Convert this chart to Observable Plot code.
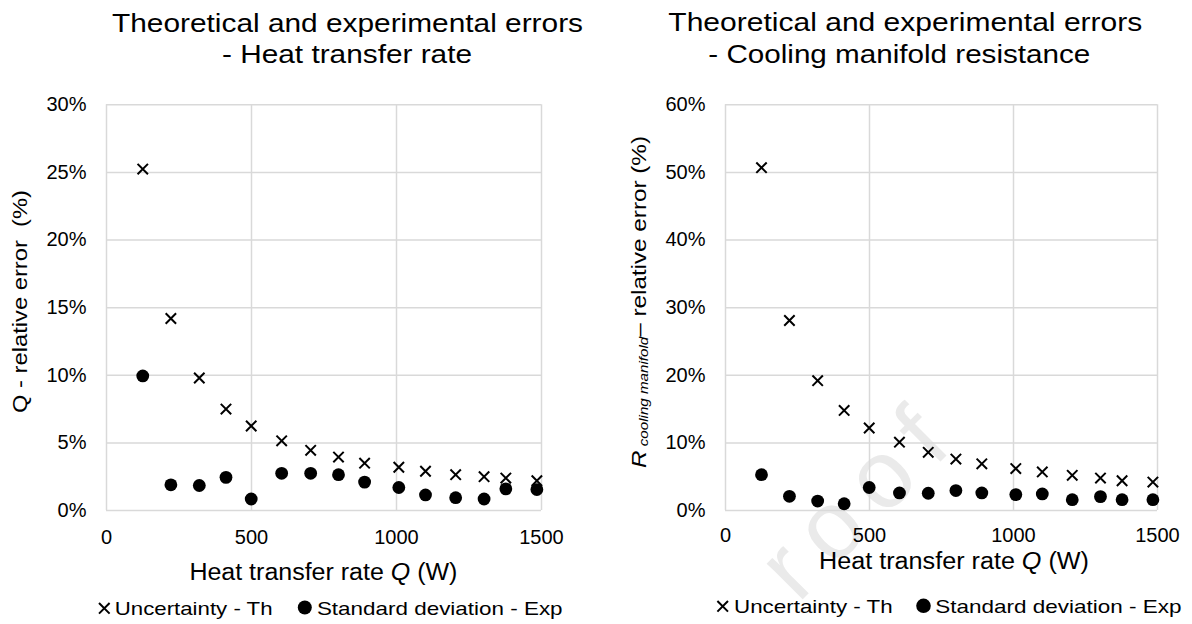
<!DOCTYPE html>
<html>
<head>
<meta charset="utf-8">
<script src="https://cdn.jsdelivr.net/npm/d3@7"></script>
<script src="https://cdn.jsdelivr.net/npm/@observablehq/plot@0.6"></script>
<style>
  body { margin: 0; background: #fff; }
  #chart { position: relative; width: 1192px; height: 624px; overflow: hidden; background: #fff; }
  #chart svg { position: absolute; }
</style>
</head>
<body>
<div id="chart"></div>
<script>
// ---- data ----
const heatRate = [125, 222, 320, 412, 499, 604, 704, 800, 890, 1008, 1100, 1204, 1302, 1377, 1484]; // W
const heatTh  = [25.25, 14.2, 9.8, 7.5, 6.25, 5.15, 4.45, 3.95, 3.5, 3.2, 2.9, 2.65, 2.5, 2.4, 2.2];      // %
const heatExp = [9.95, 1.9, 1.85, 2.45, 0.85, 2.75, 2.75, 2.65, 2.1, 1.7, 1.15, 0.95, 0.85, 1.6, 1.55];   // %
const resTh   = [50.7, 28.1, 19.2, 14.8, 12.2, 10.1, 8.6, 7.6, 6.9, 6.2, 5.7, 5.2, 4.8, 4.4, 4.2];        // %
const resExp  = [5.3, 2.1, 1.4, 1.0, 3.4, 2.6, 2.55, 2.95, 2.6, 2.35, 2.45, 1.6, 2.05, 1.6, 1.6];         // %

const xTicks = [0, 500, 1000, 1500];
const yTicksHeat = [0, 5, 10, 15, 20, 25, 30];
const yTicksRes = [0, 10, 20, 30, 40, 50, 60];

const titleLeft = ["Theoretical and experimental errors", "- Heat transfer rate"];
const titleRight = ["Theoretical and experimental errors", "- Cooling manifold resistance"];
const seriesNames = ["Uncertainty - Th", "Standard deviation - Exp"];
const watermark = "roof";

const FONT = "'Liberation Sans', Arial, sans-serif";
const GRID = "#d9d9d9";
const chart = document.getElementById("chart");

// ---- watermark (behind) ----
const wm = d3.select(chart).append("svg").attr("width", 1192).attr("height", 624)
  .style("left", "0px").style("top", "0px");
wm.append("text")
  .attr("transform", "translate(966,436) rotate(-45)")
  .attr("text-anchor", "end")
  .attr("font-family", FONT)
  .attr("font-size", 96)
  .attr("letter-spacing", 18)
  .attr("fill", "#eaeaea")
  .text(watermark);

// ---- panels ----
function panel({left, mL, mR, yMax, yTicks, th, exp, padX}) {
  const data = heatRate.map((q, i) => ({q, th: th[i], exp: exp[i]}));
  const p = Plot.plot({
    width: 596,
    height: 470,
    marginLeft: mL,
    marginRight: mR,
    marginTop: 14.3,
    marginBottom: 50,
    style: {fontFamily: FONT, fontSize: "20px", color: "#000", background: "transparent", overflow: "visible"},
    x: {domain: [0, 1500], ticks: xTicks, tickFormat: d => String(d), tickSize: 0, tickPadding: padX, label: null},
    y: {domain: [0, yMax], ticks: yTicks, tickFormat: d => d + "%", tickSize: 0, tickPadding: 20, label: null},
    marks: [
      Plot.ruleX(xTicks, {stroke: GRID, strokeWidth: 1.5}),
      Plot.ruleY(yTicks, {stroke: GRID, strokeWidth: 1.5}),
      Plot.dot(data, {x: "q", y: "th", symbol: "times", r: 4.8, stroke: "#000", strokeWidth: 2}),
      Plot.dot(data, {x: "q", y: "exp", r: 6.4, fill: "#000"})
    ]
  });
  p.style.left = left + "px";
  p.style.top = "90px";
  chart.appendChild(p);
}

panel({left: 0, mL: 106, mR: 55, yMax: 30, yTicks: yTicksHeat, th: heatTh, exp: heatExp, padX: 18.8});
panel({left: 596, mL: 129, mR: 35, yMax: 60, yTicks: yTicksRes, th: resTh, exp: resExp, padX: 17.5});

// ---- overlay texts (titles, axis labels, legends) ----
const ov = d3.select(chart).append("svg").attr("width", 1192).attr("height", 624)
  .style("left", "0px").style("top", "0px").attr("font-family", FONT);

function txt(x, y, size, len, parts, rotate) {
  const t = ov.append("text").attr("font-size", size).attr("fill", "#000").style("white-space", "pre");
  if (rotate) t.attr("transform", `translate(${x},${y}) rotate(-90)`);
  else t.attr("x", x).attr("y", y);
  for (const p of parts) {
    const s = t.append("tspan").text(p.t);
    if (p.i) s.attr("font-style", "italic");
    if (p.s) s.attr("font-size", p.s);
    if (p.dy) s.attr("dy", p.dy);
  }
  if (len) t.attr("textLength", len).attr("lengthAdjust", "spacingAndGlyphs");
}

// titles
txt(112, 31.5, 26.5, 471, [{t: titleLeft[0]}]);
txt(222, 63.3, 26.5, 250, [{t: titleLeft[1]}]);
txt(668.3, 31, 26.5, 474, [{t: titleRight[0]}]);
txt(708.3, 63, 26.5, 382, [{t: titleRight[1]}]);

// x labels
const xLab = [{t: "Heat transfer rate "}, {t: "Q", i: true}, {t: " (W)"}];
txt(189.4, 580, 23, 268, xLab);
txt(819, 569.3, 23, 270, xLab);

// y labels
txt(26.7, 413, 20, 223, [{t: "Q - relative error  (%)"}], true);
txt(646, 468, 20, 332, [
  {t: "R", i: true},
  {t: " cooling manifold", i: true, s: 12.5, dy: 1.5},
  {t: "\u2013 relative error (%)", dy: -1.5}
], true);

// legends
const timesPath = (cx, cy, a) => `M${cx - a},${cy - a}L${cx + a},${cy + a}M${cx - a},${cy + a}L${cx + a},${cy - a}`;
function legend(xc, yc, tx1, len1, cc, cr, ccy, tx2, len2, base) {
  ov.append("path").attr("d", timesPath(xc, yc, 5.3)).attr("stroke", "#000").attr("stroke-width", 2).attr("fill", "none");
  txt(tx1, base, 19, len1, [{t: seriesNames[0]}]);
  ov.append("circle").attr("cx", cc).attr("cy", ccy).attr("r", cr).attr("fill", "#000");
  txt(tx2, base, 19, len2, [{t: seriesNames[1]}]);
}
legend(104.3, 608.3, 114.8, 157.7, 304.8, 7, 607.5, 316.9, 245.7, 615);
legend(722.7, 606.3, 734, 158.7, 923.5, 7.3, 605.8, 935.3, 246.3, 612.7);
</script>
</body>
</html>
